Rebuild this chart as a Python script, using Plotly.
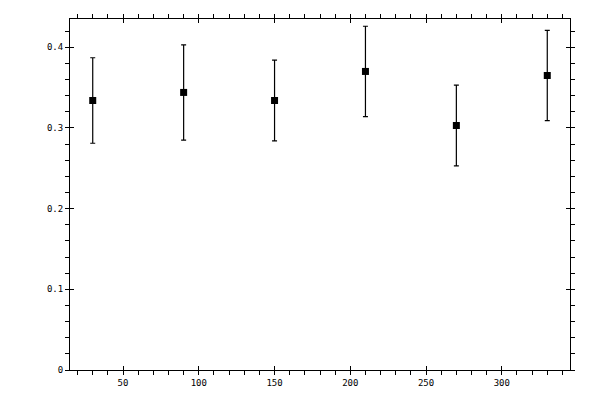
import plotly.graph_objects as go

# angle bins (deg) and measured values with symmetric errors
angles = [30, 90, 150, 210, 270, 330]
values = [0.334, 0.344, 0.334, 0.370, 0.303, 0.365]
errors = [0.053, 0.059, 0.050, 0.056, 0.050, 0.056]

fnt = dict(family="DejaVu Sans Mono", size=9, color="black")

fig = go.Figure()
fig.add_trace(go.Scatter(
    x=angles, y=values,
    mode="markers",
    marker=dict(symbol="square", size=7, color="black"),
    error_y=dict(type="data", array=errors, visible=True,
                 color="black", thickness=1.2, width=2.5),
    showlegend=False,
))
# invisible copy so the overlay axes (inner major ticks) get drawn
fig.add_trace(go.Scatter(
    x=angles, y=values, xaxis="x2", yaxis="y2",
    mode="markers", marker=dict(opacity=0), hoverinfo="skip",
    showlegend=False,
))

common = dict(showgrid=False, zeroline=False, showline=True, linecolor="black",
              linewidth=1, mirror="allticks", tickcolor="black", tickwidth=1,
              automargin=False)

# page body has an 8px default margin, so shift the plot area back by that
fig.update_layout(
    width=600, height=400,
    margin=dict(l=62, r=38, t=11, b=38),
    plot_bgcolor="white", paper_bgcolor="white",
    font=fnt,
    xaxis=dict(range=[15, 345], dtick=50, ticks="outside", ticklen=4,
               minor=dict(dtick=10, ticks="outside", ticklen=4, tickcolor="black"),
               tickfont=fnt, **common),
    yaxis=dict(range=[0, 0.435], dtick=0.1, ticks="outside", ticklen=4,
               minor=dict(dtick=0.02, ticks="outside", ticklen=4, tickcolor="black"),
               tickfont=fnt, **common),
    xaxis2=dict(overlaying="x", matches="x", dtick=50, ticks="inside", ticklen=4,
                showticklabels=False, **common),
    yaxis2=dict(overlaying="y", matches="y", dtick=0.1, ticks="inside", ticklen=4,
                showticklabels=False, **common),
)

fig.write_html("out.html")
